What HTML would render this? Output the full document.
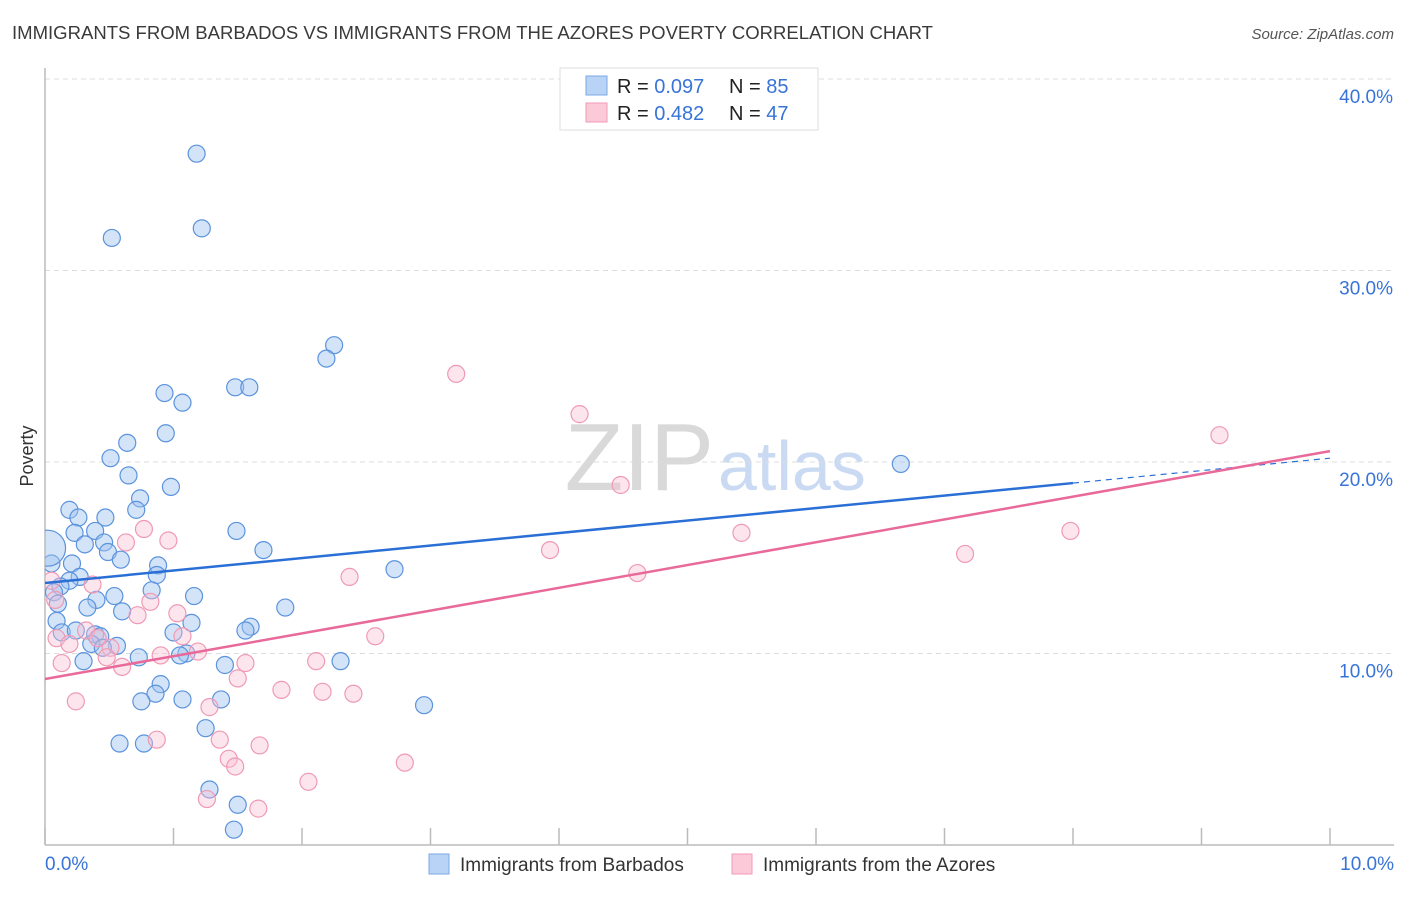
<!DOCTYPE html>
<html><head><meta charset="utf-8"><style>
body{margin:0;background:#fff;font-family:"Liberation Sans",sans-serif}
svg text{font-family:"Liberation Sans",sans-serif}
</style></head><body>
<svg id="chart" width="1406" height="892">
<defs><clipPath id="plotclip"><rect x="45" y="60" width="1360" height="786"/></clipPath></defs>
<text x="12" y="39" font-size="18" fill="#3a3a3a" textLength="921" lengthAdjust="spacingAndGlyphs">IMMIGRANTS FROM BARBADOS VS IMMIGRANTS FROM THE AZORES POVERTY CORRELATION CHART</text>
<text x="1394" y="39" font-size="15" fill="#555" font-style="italic" text-anchor="end">Source: ZipAtlas.com</text>
<text x="714" y="490" font-size="96" fill="#d9d9d9" text-anchor="end" font-family="Liberation Serif">ZIP</text>
<text x="718" y="490" font-size="70" fill="#c9daf2">atlas</text>
<text x="33" y="456" font-size="18" fill="#333" text-anchor="middle" transform="rotate(-90 33 456)">Poverty</text>
<g id="grid"></g><g id="pts" clip-path="url(#plotclip)"></g><g id="lines"></g>
<g>
<rect x="560" y="68" width="258" height="62" fill="#fff" stroke="#ddd"/>
<rect x="586" y="76" width="21" height="19" fill="#b8d3f5" stroke="#7aa9e6"/>
<rect x="586" y="103" width="21" height="19" fill="#fbc9d8" stroke="#f09ab5"/>
<text x="617" y="93" font-size="20" fill="#222">R = <tspan fill="#3874d8">0.097</tspan></text>
<text x="729" y="93" font-size="20" fill="#222">N = <tspan fill="#3874d8">85</tspan></text>
<text x="617" y="120" font-size="20" fill="#222">R = <tspan fill="#3874d8">0.482</tspan></text>
<text x="729" y="120" font-size="20" fill="#222">N = <tspan fill="#3874d8">47</tspan></text>
</g>
<g>
<rect x="429" y="854" width="20" height="20" fill="#b8d3f5" stroke="#7aa9e6"/>
<text x="460" y="871" font-size="19" fill="#333">Immigrants from Barbados</text>
<rect x="732" y="854" width="20" height="20" fill="#fbc9d8" stroke="#f09ab5"/>
<text x="763" y="871" font-size="19" fill="#333">Immigrants from the Azores</text>
</g>
</svg>
<script>
const xTicks=[0,1,2,3,4,5,6,7,8,9,10];
const yTicks=[10,20,30,40];
const blueX=[1.18,0.52,1.22,2.25,2.19,1.48,1.59,0.93,1.07,0.94,0.64,0.51,0.65,0.98,0.74,0.19,0.71,0.26,0.47,1.49,0.39,0.23,0.31,0.46,1.70,0.49,0.59,0.05,0.21,0.88,2.72,0.87,0.27,0.19,0.12,0.07,0.83,0.54,1.16,0.40,0.10,0.33,1.87,0.60,0.09,1.14,1.60,1.56,0.13,0.24,1.00,0.39,0.43,0.36,0.56,0.45,1.10,1.05,0.73,0.30,2.30,1.40,0.90,0.86,0.75,1.07,1.37,2.95,1.25,0.58,0.77,1.28,1.50,1.47,6.66,0.02];
const blueY=[36.1,31.7,32.2,26.1,25.4,23.9,23.9,23.6,23.1,21.5,21.0,20.2,19.3,18.7,18.1,17.5,17.5,17.1,17.1,16.4,16.4,16.3,15.7,15.8,15.4,15.3,14.9,14.7,14.7,14.6,14.4,14.1,14.0,13.8,13.5,13.2,13.3,13.0,13.0,12.8,12.6,12.4,12.4,12.2,11.7,11.6,11.4,11.2,11.1,11.2,11.1,11.0,10.9,10.5,10.4,10.3,10.0,9.9,9.8,9.6,9.6,9.4,8.4,7.9,7.5,7.6,7.6,7.3,6.1,5.3,5.3,2.9,2.1,0.8,19.9,15.5];
const pinkX=[3.20,4.16,9.14,4.48,5.42,7.98,0.77,0.96,0.63,3.93,7.16,4.61,2.37,0.37,0.05,0.82,0.08,1.03,0.72,0.32,1.07,2.57,0.09,0.41,0.19,1.19,0.51,0.90,0.48,2.11,1.56,0.13,0.60,1.50,1.84,2.16,2.40,0.24,1.28,1.36,0.87,1.43,1.67,1.48,2.80,2.05,1.26,1.66];
const pinkY=[24.6,22.5,21.4,18.8,16.3,16.4,16.5,15.9,15.8,15.4,15.2,14.2,14.0,13.6,13.8,12.7,12.8,12.1,12.0,11.2,10.9,10.9,10.8,10.8,10.5,10.1,10.3,9.9,9.8,9.6,9.5,9.5,9.3,8.7,8.1,8.0,7.9,7.5,7.2,5.5,5.5,4.5,5.2,4.1,4.3,3.3,2.4,1.9];
const blueTrend=[13.68,18.9,20.2];
const pinkTrend=[8.67,20.57];
const NS="http://www.w3.org/2000/svg";
const X=v=>45+v*128.5, Y=v=>845-v*19.15;
function mk(t,a,p){const e=document.createElementNS(NS,t);for(const k in a)e.setAttribute(k,a[k]);p.appendChild(e);return e;}
const grid=document.getElementById('grid');
yTicks.forEach(t=>{
 const l=mk('line',{x1:45,x2:1394,y1:Y(t),y2:Y(t),stroke:'#ddd','stroke-dasharray':'5,4'},grid);
 
 
 const tx=mk('text',{x:1393,y:Y(t)+24,'font-size':19,fill:'#3874d8','text-anchor':'end'},grid);tx.textContent=t.toFixed(1)+'%';
 
 
});
mk('line',{x1:45,x2:45,y1:68,y2:845,stroke:'#bbb','stroke-width':1.5},grid);
mk('line',{x1:45,x2:1394,y1:845,y2:845,stroke:'#bbb','stroke-width':1.5},grid);
xTicks.forEach(t=>{const l=mk('line',{x1:X(t),x2:X(t),y1:828,y2:845,stroke:'#bbb','stroke-width':1.5},grid);
 
 });
[[0,'start',45],[10,'end',1394]].forEach(([v,a,x])=>{const tx=mk('text',{x:x,y:870,'font-size':19,fill:'#3874d8','text-anchor':a},grid);tx.textContent=v.toFixed(1)+'%';
 
 });
const pts=document.getElementById('pts');
blueX.forEach((x,i)=>{const c=mk('circle',{cx:X(x),cy:Y(blueY[i]),r:i==blueX.length-1?18:8.5,fill:'rgba(160,195,240,0.45)',stroke:'#5b93dd','stroke-width':1.2},pts);
 
 });
pinkX.forEach((x,i)=>{const c=mk('circle',{cx:X(x),cy:Y(pinkY[i]),r:8.5,fill:'rgba(250,190,210,0.4)',stroke:'#ef9ab4','stroke-width':1.2},pts);
 
 });
const lines=document.getElementById('lines');
let l=mk('line',{x1:X(0),y1:Y(blueTrend[0]),x2:X(8),y2:Y(blueTrend[1]),stroke:'#2a6fd6','stroke-width':2.5},lines);


l=mk('line',{x1:X(8),y1:Y(blueTrend[1]),x2:X(10),y2:Y(blueTrend[2]),stroke:'#2a6fd6','stroke-width':1.2,'stroke-dasharray':'6,5'},lines);


l=mk('line',{x1:X(0),y1:Y(pinkTrend[0]),x2:X(10),y2:Y(pinkTrend[1]),stroke:'#e8699a','stroke-width':2.5},lines);


</script>
</body></html>
